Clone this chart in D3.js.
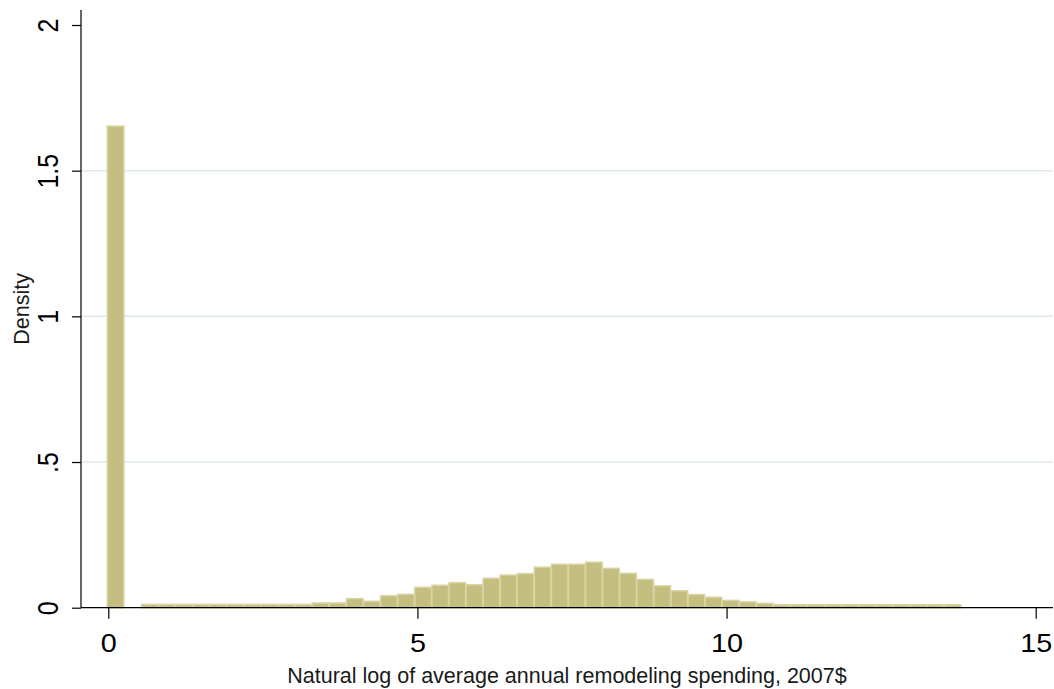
<!DOCTYPE html>
<html>
<head>
<meta charset="utf-8">
<script src="https://cdn.jsdelivr.net/npm/d3@7"></script>
<style>
  html, body { margin: 0; padding: 0; background: #fff; }
  svg { display: block; }
  text { font-family: "Liberation Sans", Arial, sans-serif; }
</style>
</head>
<body>
<script>
// ---- data ----
const binWidth = 0.2763;
const binLeft = [0, 0.2763, 0.5526, 0.8289, 1.1052, 1.3815, 1.6578, 1.9341, 2.2104, 2.4867,
  2.763, 3.0393, 3.3156, 3.5919, 3.8682, 4.1445, 4.4208, 4.6971, 4.9734, 5.2497,
  5.526, 5.8023, 6.0786, 6.3549, 6.6312, 6.9075, 7.1838, 7.4601, 7.7364, 8.0127,
  8.289, 8.5653, 8.8416, 9.1179, 9.3942, 9.6705, 9.9468, 10.2231, 10.4994, 10.7757,
  11.052, 11.3283, 11.6046, 11.8809, 12.1572, 12.4335, 12.7098, 12.9861, 13.2624, 13.5387];
const density = [1.653, 0, 0.011, 0.011, 0.011, 0.011, 0.011, 0.011, 0.011, 0.011,
  0.011, 0.011, 0.016, 0.016, 0.031, 0.022, 0.041, 0.046, 0.070, 0.077,
  0.086, 0.079, 0.101, 0.112, 0.117, 0.139, 0.149, 0.149, 0.156, 0.135,
  0.118, 0.097, 0.075, 0.058, 0.045, 0.036, 0.025, 0.020, 0.015, 0.010,
  0.010, 0.010, 0.010, 0.010, 0.010, 0.010, 0.010, 0.010, 0.010, 0.010];
const xTicks = [0, 5, 10, 15];
const yTicks = [0, 0.5, 1, 1.5, 2];
const yTickLabels = ["0", ".5", "1", "1.5", "2"];
const gridValues = [0.5, 1, 1.5];
const xTitle = "Natural log of average annual remodeling spending, 2007$";
const yTitle = "Density";

// ---- layout ----
const W = 1054, H = 689;
const axisLeftX = 81, axisRightX = 1053, axisTopY = 10, axisBottomY = 607.7;

const x = d3.scaleLinear().domain([0, 15]).range([108.3, 1035.7]);
const y = d3.scaleLinear().domain([0, 2]).range([607.7, 25]);

const svg = d3.select("body").append("svg").attr("width", W).attr("height", H);
svg.append("rect").attr("width", W).attr("height", H).attr("fill", "#fff");

// gridlines
svg.append("g").selectAll("line").data(gridValues).join("line")
  .attr("x1", axisLeftX).attr("x2", axisRightX)
  .attr("y1", d => y(d)).attr("y2", d => y(d))
  .attr("stroke", "#e0eaee").attr("stroke-width", 1.5);

// bars
const bars = binLeft.map((b, i) => ({ x0: b, x1: b + binWidth, v: density[i] })).filter(d => d.v > 0);
svg.append("g").selectAll("rect").data(bars).join("rect")
  .attr("x", d => x(d.x0) - 1)
  .attr("width", d => x(d.x1) - x(d.x0) - 0.5)
  .attr("y", d => y(d.v))
  .attr("height", d => y(0) - y(d.v))
  .attr("fill", "#c4be80")
  .attr("stroke", "#dad4a4")
  .attr("stroke-width", 1.5);

// x axis
const gx = svg.append("g").attr("transform", `translate(0,${axisBottomY})`)
  .call(d3.axisBottom(x).tickValues(xTicks).tickSize(11).tickFormat(d3.format("d")));
gx.select(".domain").remove();
gx.selectAll(".tick line").attr("stroke", "#000").attr("stroke-width", 1.2);
gx.selectAll(".tick text")
  .attr("y", 44).attr("dy", 0)
  .attr("transform", "scale(1.15,1)")
  .attr("fill", "#000")
  .style("font-size", "25px");

// y axis
const gy = svg.append("g").attr("transform", `translate(${axisLeftX},0)`)
  .call(d3.axisLeft(y).tickValues(yTicks).tickSize(9).tickFormat((d, i) => yTickLabels[i]));
gy.select(".domain").remove();
gy.selectAll(".tick line").attr("stroke", "#000").attr("stroke-width", 1.2);
gy.selectAll(".tick text")
  .attr("x", 0).attr("y", 0).attr("dy", 0)
  .attr("text-anchor", "middle")
  .attr("transform", "translate(-22.7,0) scale(1.15,1) rotate(-90)")
  .attr("fill", "#000")
  .style("font-size", "25px");

// axis lines
svg.append("line").attr("x1", axisLeftX).attr("x2", axisLeftX)
  .attr("y1", axisTopY).attr("y2", axisBottomY)
  .attr("stroke", "#000").attr("stroke-width", 1.2);
svg.append("line").attr("x1", axisLeftX).attr("x2", axisRightX)
  .attr("y1", axisBottomY).attr("y2", axisBottomY)
  .attr("stroke", "#000").attr("stroke-width", 1.2);

// titles
svg.append("text")
  .attr("x", (axisLeftX + axisRightX) / 2).attr("y", 683)
  .attr("text-anchor", "middle")
  .style("font-size", "21.5px").attr("fill", "#1a1a1a")
  .text(xTitle);
svg.append("text")
  .attr("transform", `translate(29,${(axisTopY + axisBottomY) / 2}) rotate(-90)`)
  .attr("text-anchor", "middle")
  .style("font-size", "21.5px").attr("fill", "#1a1a1a")
  .text(yTitle);
</script>
</body>
</html>
